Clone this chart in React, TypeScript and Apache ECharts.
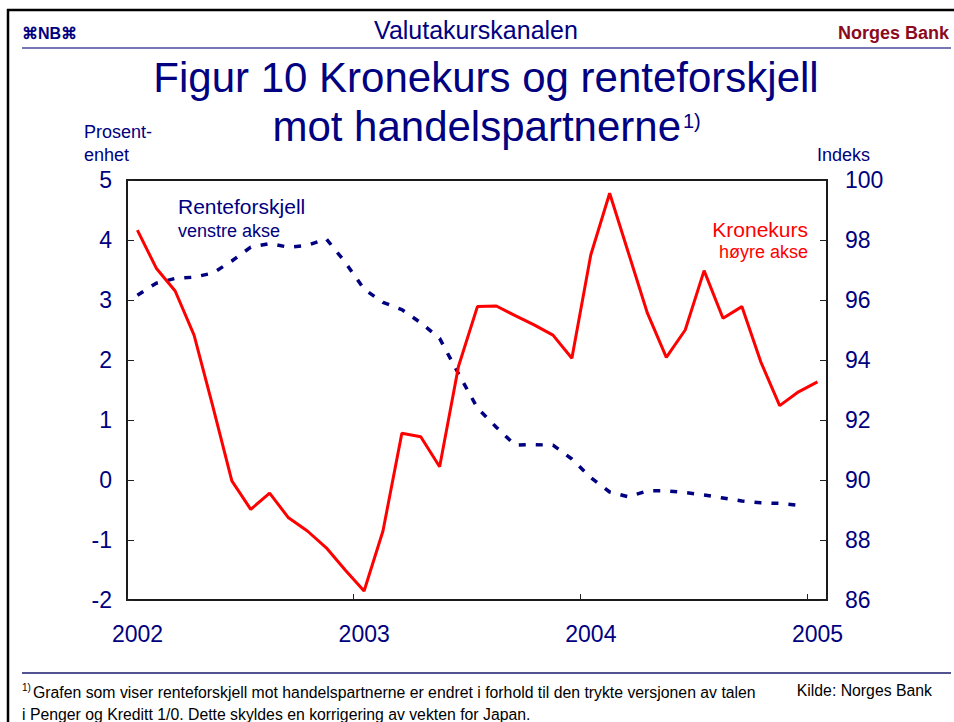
import React, { useEffect, useRef } from "react";
import * as echarts from "echarts";

// Kronekurs (right axis, index), monthly Jan 2002 - Jan 2005
const kronekurs = [
  98.33, 97.06, 96.3, 94.83, 92.44, 89.97, 89.02, 89.56, 88.74, 88.3, 87.74, 87.0,
  86.3, 88.3, 91.56, 91.44, 90.44, 93.79, 95.78, 95.8, 95.48, 95.17, 94.83, 94.06,
  97.5, 99.56, 97.56, 95.56, 94.09, 95.0, 96.98, 95.39, 95.78, 93.94, 92.48, 92.94,
  93.27,
];
// Renteforskjell (left axis, percentage points), monthly Jan 2002 - Dec 2004
const renteforskjell = [
  3.08, 3.28, 3.36, 3.38, 3.45, 3.65, 3.88, 3.94, 3.88, 3.91, 4.02, 3.63,
  3.18, 2.96, 2.84, 2.62, 2.36, 1.77, 1.2, 0.88, 0.58, 0.59, 0.58, 0.35,
  0.04, -0.2, -0.28, -0.18, -0.18, -0.21, -0.25, -0.3, -0.35, -0.38, -0.39, -0.42,
];
const startYear = 2002;
const endYear = 2005;
const leftMin = -2;
const leftMax = 5;
const rightMin = 86;
const rightMax = 100;

const NAVY = "#000080";
const FONT = "'Liberation Sans', Arial, sans-serif";

function txt(
  text: string,
  x: number,
  y: number,
  size: number,
  color: string,
  align: string = "left",
  weight: string = "normal"
) {
  return {
    type: "text",
    x,
    y,
    silent: true,
    style: {
      text,
      fill: color,
      fontSize: size,
      fontFamily: FONT,
      fontWeight: weight,
      align,
      verticalAlign: "middle",
      textAlign: align,
      textVerticalAlign: "middle",
    },
  };
}

export default function App() {
  const ref = useRef<HTMLDivElement>(null);
  useEffect(() => {
    if (!ref.current) return;
    const chart = echarts.init(ref.current, undefined, { renderer: "svg" });
    const monthX = (i: number) => startYear + (i + 0.55) / 12;
    const option: any = {
      animation: false,
      backgroundColor: "#ffffff",
      grid: {
        left: 127,
        right: 127,
        top: 180,
        bottom: 122,
        show: true,
        borderColor: "#1a1a1a",
        borderWidth: 2,
        backgroundColor: "transparent",
      },
      xAxis: {
        type: "value",
        min: startYear,
        max: endYear + 0.088,
        interval: 1,
        axisLine: { show: false, onZero: false },
        splitLine: { show: false },
        axisTick: { show: true, inside: true, length: 6, lineStyle: { color: "#222", width: 1 } },
        axisLabel: {
          color: NAVY,
          fontSize: 23,
          fontFamily: FONT,
          margin: 22,
          padding: [0, 0, 0, 21],
          formatter: (v: number) =>
            Math.abs(v - Math.round(v)) < 1e-6 ? String(Math.round(v)) : "",
        },
      },
      yAxis: [
        {
          type: "value",
          position: "left",
          min: leftMin,
          max: leftMax,
          interval: 1,
          axisLine: { show: false, onZero: false },
          splitLine: { show: false },
          axisTick: { show: true, inside: true, length: 7, lineStyle: { color: "#222", width: 1 } },
          axisLabel: { color: NAVY, fontSize: 23, fontFamily: FONT, margin: 15 },
        },
        {
          type: "value",
          position: "right",
          min: rightMin,
          max: rightMax,
          interval: 2,
          axisLine: { show: false, onZero: false },
          splitLine: { show: false },
          axisTick: { show: true, inside: true, length: 7, lineStyle: { color: "#222", width: 1 } },
          axisLabel: { color: NAVY, fontSize: 23, fontFamily: FONT, margin: 18 },
        },
      ],
      series: [
        {
          name: "Renteforskjell",
          type: "line",
          yAxisIndex: 0,
          showSymbol: false,
          symbol: "none",
          data: renteforskjell.map((v, i) => [monthX(i), v]),
          lineStyle: { color: NAVY, width: 3.5, type: [7, 10], cap: "butt" },
          z: 2,
        },
        {
          name: "Kronekurs",
          type: "line",
          yAxisIndex: 1,
          showSymbol: false,
          symbol: "none",
          data: kronekurs.map((v, i) => [monthX(i), v]),
          lineStyle: { color: "#ff0000", width: 3 },
          z: 3,
        },
      ],
      graphic: [
        { type: "line", silent: true, shape: { x1: 7, y1: 10, x2: 954, y2: 10 }, style: { stroke: "#000", lineWidth: 2.5 } },
        { type: "line", silent: true, shape: { x1: 8, y1: 9, x2: 8, y2: 722 }, style: { stroke: "#000", lineWidth: 2.5 } },
        { type: "line", silent: true, shape: { x1: 22, y1: 48, x2: 951, y2: 48 }, style: { stroke: "#4a4a9c", lineWidth: 1.5 } },
        { type: "line", silent: true, shape: { x1: 22, y1: 673, x2: 951, y2: 673 }, style: { stroke: "#1a1a70", lineWidth: 1.5 } },
        txt("⌘NB⌘", 22, 33, 16, NAVY, "left", "bold"),
        txt("Valutakurskanalen", 476, 30, 25, NAVY, "center"),
        txt("Norges Bank", 949, 33, 18, "#8b0a1e", "right", "bold"),
        txt("Figur 10 Kronekurs og renteforskjell", 486, 77, 42, NAVY, "center"),
        txt("mot handelspartnerne", 681, 126, 42, NAVY, "right"),
        txt("1)", 683, 121, 20, NAVY, "left"),
        txt("Prosent-", 84, 132, 18, NAVY, "left"),
        txt("enhet", 84, 155, 18, NAVY, "left"),
        txt("Indeks", 817, 155, 18, NAVY, "left"),
        txt("Renteforskjell", 178, 206, 21, NAVY, "left"),
        txt("venstre akse", 178, 231, 18, NAVY, "left"),
        txt("Kronekurs", 808, 229, 21, "#ff0000", "right"),
        txt("høyre akse", 808, 252, 18, "#ff0000", "right"),
        txt("1)", 22, 687, 10, "#000", "left"),
        txt(
          "Grafen som viser renteforskjell mot handelspartnerne er endret i forhold til den trykte versjonen av talen",
          33, 692, 15.8, "#000", "left"
        ),
        txt("i Penger og Kreditt 1/0. Dette skyldes en korrigering av vekten for Japan.", 22, 714, 15.8, "#000", "left"),
        txt("Kilde: Norges Bank", 932, 690, 15.8, "#000", "right"),
      ],
    };
    chart.setOption(option);
    return () => chart.dispose();
  }, []);
  return (
    <div
      ref={ref}
      style={{ position: "absolute", left: 0, top: 0, width: 954, height: 722, background: "#fff" }}
    />
  );
}
